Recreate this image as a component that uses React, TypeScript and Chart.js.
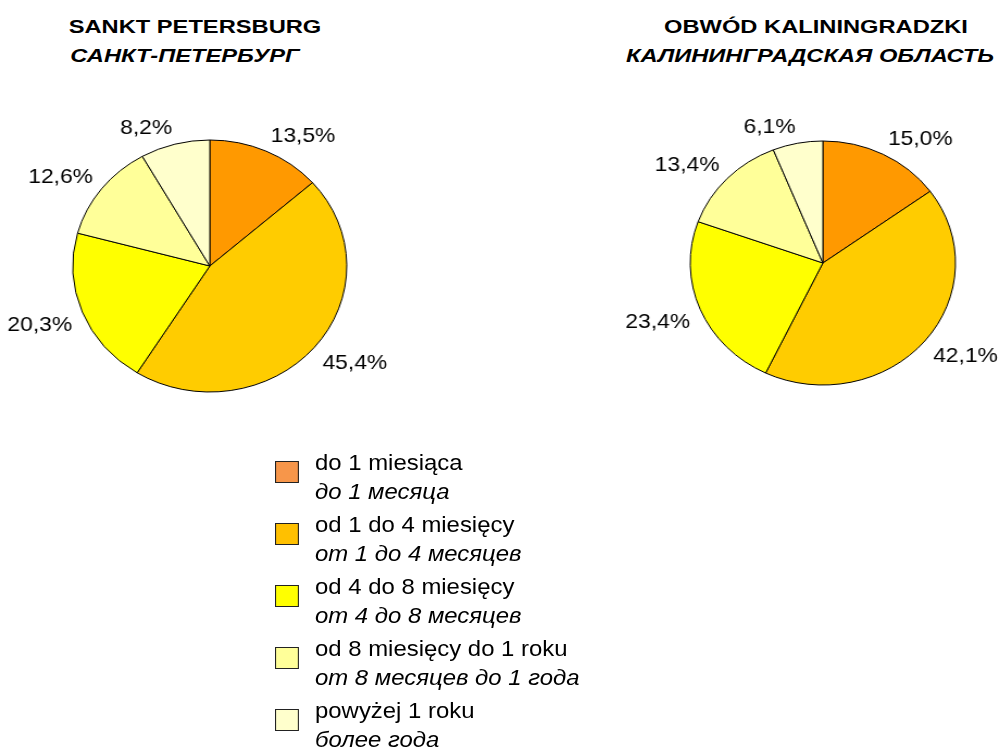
import React, { useEffect, useRef } from "react";
import { Chart, registerables } from "chart.js";

Chart.register(...registerables);

const FONT = '"Liberation Sans", Arial, Helvetica, sans-serif';

const categoriesPl = [
  "do 1 miesiąca",
  "od 1 do 4 miesięcy",
  "od 4 do 8 miesięcy",
  "od 8 miesięcy do 1 roku",
  "powyżej 1 roku",
];
const categoriesRu = [
  "до 1 месяца",
  "от 1 до 4 месяцев",
  "от 4 до 8 месяцев",
  "от 8 месяцев до 1 года",
  "более года",
];
const regionTitlesPl = ["SANKT PETERSBURG", "OBWÓD KALININGRADZKI"];
const regionTitlesRu = ["САНКТ-ПЕТЕРБУРГ", "КАЛИНИНГРАДСКАЯ ОБЛАСТЬ"];
const spbValues = [13.5, 45.4, 20.3, 12.6, 8.2];
const kalValues = [15.0, 42.1, 23.4, 13.4, 6.1];
const sliceColors = ["#FF9900", "#FFCC00", "#FFFF00", "#FFFF99", "#FFFFCC"];
const legendColors = ["#F7964A", "#FFC000", "#FFFF00", "#FFFF99", "#FFFFCC"];

const SX = 1.087; // horizontal stretch of the whole figure

const labelPlugin = {
  id: "pctLabels",
  afterDatasetsDraw(chart: any) {
    const ctx = chart.ctx;
    const meta = chart.getDatasetMeta(0);
    const data = chart.data.datasets[0].data as number[];
    ctx.save();
    ctx.font = `21px ${FONT}`;
    ctx.fillStyle = "#000";
    ctx.textBaseline = "alphabetic";
    meta.data.forEach((arc: any, i: number) => {
      const p = arc.getProps(["x", "y", "startAngle", "endAngle", "outerRadius"], true);
      const mid = (p.startAngle + p.endAngle) / 2;
      const c = Math.cos(mid);
      const s = Math.sin(mid);
      const gap = 10;
      const px = p.x + (p.outerRadius + gap) * c;
      const py = p.y + (p.outerRadius + gap) * s;
      const text = data[i].toFixed(1).replace(".", ",") + "%";
      ctx.textAlign = c > 0.1 ? "left" : c < -0.1 ? "right" : "center";
      const cap = 15;
      const by = s < -0.1 ? py : s > 0.1 ? py + cap : py + cap / 2;
      ctx.fillText(text, px, by);
    });
    ctx.restore();
  },
};

function PieChart({ values, radius, cx, cy, w, h }: { values: number[]; radius: number; cx: number; cy: number; w: number; h: number }) {
  const ref = useRef<HTMLCanvasElement | null>(null);
  useEffect(() => {
    const chart = new Chart(ref.current as HTMLCanvasElement, {
      type: "pie",
      data: {
        labels: categoriesPl,
        datasets: [
          {
            data: values,
            backgroundColor: sliceColors,
            borderColor: "#000",
            borderWidth: 1,
            radius: radius,
          } as any,
        ],
      },
      options: {
        animation: false,
        responsive: false,
        maintainAspectRatio: false,
        events: [],
        layout: { padding: 0 },
        plugins: {
          legend: { display: false },
          tooltip: { enabled: false },
          title: { display: false },
        },
      } as any,
      plugins: [labelPlugin],
    });
    return () => chart.destroy();
  }, []);
  return (
    <canvas
      ref={ref}
      width={w}
      height={h}
      style={{ position: "absolute", left: cx - w / 2, top: cy - h / 2 }}
    />
  );
}

function TitleLine({ text, center, top, italic }: { text: string; center: number; top: number; italic: boolean }) {
  return (
    <div
      style={{
        position: "absolute",
        left: center - 250,
        top,
        width: 500,
        textAlign: "center",
        fontFamily: FONT,
        fontWeight: "bold",
        fontStyle: italic ? "italic" : "normal",
        fontSize: 18.5,
        lineHeight: "29px",
        color: "#000",
        whiteSpace: "nowrap",
        transform: "scaleX(1.28)",
        transformOrigin: "50% 50%",
      }}
    >
      {text}
    </div>
  );
}

export default function App() {
  return (
    <div
      style={{
        position: "absolute",
        left: 0,
        top: 0,
        width: 1008,
        height: 752,
        overflow: "hidden",
        background: "#fff",
      }}
    >
      <TitleLine text={regionTitlesPl[0]} center={195} top={12} italic={false} />
      <TitleLine text={regionTitlesRu[0]} center={185} top={41} italic={true} />
      <TitleLine text={regionTitlesPl[1]} center={816} top={12} italic={false} />
      <TitleLine text={regionTitlesRu[1]} center={810} top={41} italic={true} />
      <div
        style={{
          position: "absolute",
          left: 0,
          top: 0,
          width: 1008 / SX,
          height: 752,
          transform: `scaleX(${SX})`,
          transformOrigin: "0 0",
        }}
      >
        <PieChart values={spbValues} radius={126} cx={193.4} cy={266.3} w={380} h={340} />
        <PieChart values={kalValues} radius={122} cx={757.1} cy={262.5} w={460} h={340} />
        {categoriesPl.map((pl, i) => (
          <div key={pl} style={{ position: "absolute", left: 0, top: 448 + i * 62, width: 600, height: 60 }}>
            <div
              style={{
                position: "absolute",
                left: 253,
                top: 13,
                width: 20,
                height: 20,
                background: legendColors[i],
                border: "1px solid #222",
              }}
            />
            <div
              style={{
                position: "absolute",
                left: 289.8,
                top: 0,
                fontFamily: FONT,
                fontSize: 22,
                lineHeight: "29px",
                color: "#000",
                whiteSpace: "nowrap",
              }}
            >
              <div>{pl}</div>
              <div style={{ fontStyle: "italic" }}>{categoriesRu[i]}</div>
            </div>
          </div>
        ))}
      </div>
    </div>
  );
}
